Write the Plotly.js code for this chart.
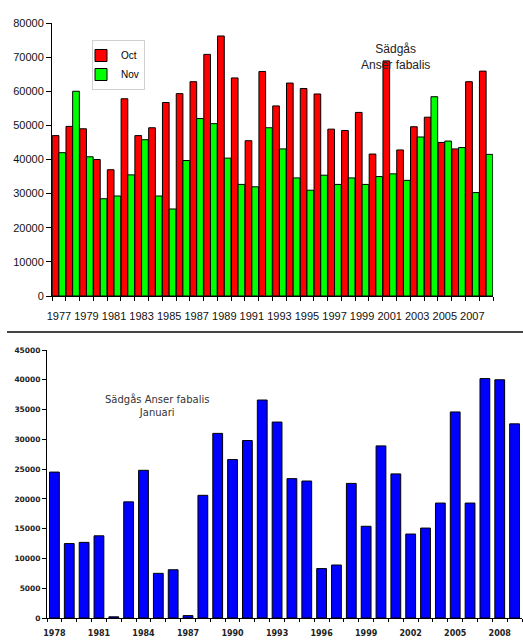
<!DOCTYPE html>
<html><head><meta charset="utf-8">
<script src="https://cdn.plot.ly/plotly-3.0.1.min.js"></script>
<style>html,body{margin:0;padding:0;background:#fff}#c{width:523px;height:643px}</style>
</head><body><div id="c"></div>
<script>
const yearsAutumn = [1977,1978,1979,1980,1981,1982,1983,1984,1985,1986,1987,1988,1989,1990,1991,1992,1993,1994,1995,1996,1997,1998,1999,2000,2001,2002,2003,2004,2005,2006,2007,2008];
const octValues = [47000,49700,49000,40000,37000,57800,47000,49300,56700,59300,62800,70800,76200,63900,45500,65800,55700,62400,60800,59200,48900,48500,53800,41600,68900,42800,49600,52400,45000,43100,62800,65900];
const novValues = [42000,60000,40800,28500,29300,35500,45800,29300,25500,39700,52000,50500,40400,32700,32000,49300,43100,34600,31000,35400,32700,34600,32700,35000,35800,33900,46600,58400,45400,43500,30300,41500];
const autumnTickYears = [1977,1979,1981,1983,1985,1987,1989,1991,1993,1995,1997,1999,2001,2003,2005,2007];

const yearsJan = [1978,1979,1980,1981,1982,1983,1984,1985,1986,1987,1988,1989,1990,1991,1992,1993,1994,1995,1996,1997,1998,1999,2000,2001,2002,2003,2004,2005,2006,2007,2008,2009];
const janValues = [24500,12500,12700,13800,200,19500,24800,7500,8100,400,20600,31000,26600,29800,36600,32900,23400,23000,8300,8900,22600,15400,28900,24200,14100,15100,19300,34600,19300,40200,40000,32600];
const janTickYears = [1978,1981,1984,1987,1990,1993,1996,1999,2002,2005,2008];

const F = 'Arial, "Liberation Sans", sans-serif';
const FW = '"DejaVu Sans", sans-serif';
const W = 523, H = 643;
const px = v => v / W, py = v => 1 - v / H;

const traces = [
  {type:'bar', x: yearsAutumn, y: octValues, name:'Oct', xaxis:'x', yaxis:'y',
   marker:{color:'#ff0000', line:{color:'#000', width:1}}},
  {type:'bar', x: yearsAutumn, y: novValues, name:'Nov', xaxis:'x', yaxis:'y',
   marker:{color:'#00ff00', line:{color:'#000', width:1}}},
  {type:'bar', x: yearsJan, y: janValues, name:'Januari', xaxis:'x2', yaxis:'y2', showlegend:false,
   marker:{color:'#0000ff', line:{color:'#000', width:1}}, width:0.66}
];

const layout = {
  width: W, height: H,
  margin:{l:0, r:0, t:0, b:0},
  paper_bgcolor:'#fff', plot_bgcolor:'#fff',
  barmode:'group', bargap:0.03, bargroupgap:0,
  font:{family:F, color:'#000'},
  showlegend:true,
  legend:{x:px(92), y:py(40), xanchor:'left', yanchor:'top', bordercolor:'#d0d0d0', borderwidth:1,
          font:{size:10, family:F}, bgcolor:'#fff', itemwidth:30, tracegroupgap:0, indentation:-12},
  xaxis:{domain:[px(52), px(493)], anchor:'y', range:[1976.5, 2008.5],
         tickmode:'array', tickvals:autumnTickYears, ticktext:autumnTickYears.map(String),
         ticks:'', ticklabelstandoff:10, showgrid:false, zeroline:false, showline:true, linecolor:'#000', linewidth:1,
         tickfont:{size:11, family:F, color:'#111'},
         minor:{tick0:1976.5, dtick:1, ticks:'outside', ticklen:4, tickcolor:'#000', showgrid:false}},
  yaxis:{domain:[py(296), py(23)], anchor:'x', range:[0, 80000], dtick:10000, tickformat:'d',
         ticks:'outside', ticklen:5, tickcolor:'#000', showgrid:false, zeroline:false,
         showline:true, linecolor:'#000', linewidth:1, tickfont:{size:11, family:F, color:'#111'}},
  xaxis2:{domain:[px(47), px(522)], anchor:'y2', range:[1977.5, 2009.5],
          tickmode:'array', tickvals:janTickYears, ticktext:janTickYears.map(String),
          ticks:'', ticklabelstandoff:7, showgrid:false, zeroline:false, showline:true, linecolor:'#000', linewidth:1,
          tickfont:{size:8, family:FW, color:'#222', weight:'bold'},
          minor:{tick0:1977.5, dtick:1, ticks:'outside', ticklen:3, tickcolor:'#000', showgrid:false}},
  yaxis2:{domain:[py(618), py(350)], anchor:'x2', range:[0, 45000], dtick:5000, tickformat:'d',
          ticks:'outside', ticklen:4, tickcolor:'#000', showgrid:false, zeroline:false,
          showline:true, linecolor:'#000', linewidth:1,
          tickfont:{size:7.5, family:FW, color:'#222', weight:'bold'}},
  shapes:[{type:'line', xref:'paper', yref:'paper', x0:px(7), x1:1, y0:py(332), y1:py(332),
           line:{color:'#444', width:2}}],
  annotations:[
    {xref:'paper', yref:'paper', x:px(395), y:py(57), text:'Sädgås<br>Anser fabalis', showarrow:false,
     font:{size:12, family:F, color:'#222'}, xanchor:'center', yanchor:'middle'},
    {xref:'paper', yref:'paper', x:px(157), y:py(405), text:'Sädgås Anser fabalis<br>Januari', showarrow:false,
     font:{size:10, family:FW, color:'#333'}, xanchor:'center', yanchor:'middle'}
  ]
};
Plotly.newPlot('c', traces, layout, {displayModeBar:false, staticPlot:true});
</script></body></html>
